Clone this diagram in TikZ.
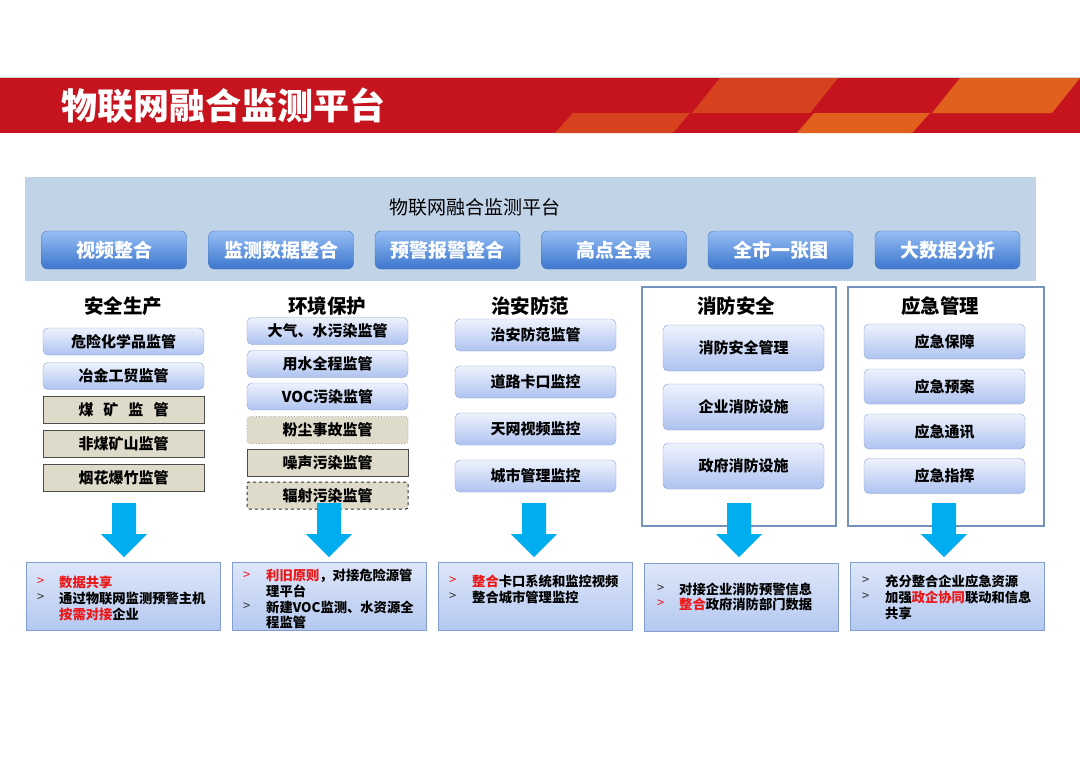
\documentclass[tikz,border=0pt]{standalone}
\usepackage{fontspec}
\setmainfont{Noto Sans CJK SC}

\definecolor{bannerred}{RGB}{198,20,30}
\definecolor{orangeA}{RGB}{214,66,30}
\definecolor{orangeB}{RGB}{226,96,30}
\definecolor{panelblue}{RGB}{193,211,231}
\definecolor{btntop}{RGB}{150,190,245}
\definecolor{btnbot}{RGB}{60,118,204}
\definecolor{btnline}{RGB}{78,118,182}
\definecolor{itemtop}{RGB}{238,242,253}
\definecolor{itembot}{RGB}{174,195,240}
\definecolor{itemline}{RGB}{140,164,210}
\definecolor{khaki}{RGB}{222,219,202}
\definecolor{frameline}{RGB}{118,146,188}
\definecolor{arrowblue}{RGB}{0,174,239}
\definecolor{notetop}{RGB}{222,231,249}
\definecolor{notebot}{RGB}{180,200,240}
\definecolor{noteline}{RGB}{130,158,205}
\definecolor{hired}{RGB}{235,22,22}

\begin{document}
\begin{tikzpicture}[
    x=1pt,y=-1pt,
    every node/.style={inner sep=0pt},
    button/.style={draw=btnline, rounded corners=6pt, top color=btntop, bottom color=btnbot, text=white, font=\bfseries\fontsize{19}{19}\selectfont, minimum width=145, minimum height=38},
    colhead/.style={font=\bfseries\fontsize{19.5}{20}\selectfont},
    item/.style={draw=itemline, rounded corners=5pt, top color=itemtop, bottom color=itembot, font=\bfseries\fontsize{15}{15}\selectfont, minimum width=161},
    grayitem/.style={draw=black!70, line width=0.9pt, fill=khaki, font=\bfseries\fontsize{15}{15}\selectfont, minimum width=161, minimum height=27},
    panelframe/.style={draw=frameline, line width=1.8pt},
    notebox/.style={draw=noteline, top color=notetop, bottom color=notebot, minimum width=194, minimum height=68},
    txt/.style={anchor=west, font=\bfseries\fontsize{13.3}{13.3}\selectfont},
    bul/.style={anchor=west, font=\fontsize{13}{13}\selectfont, text=black!80},
    hotbul/.style={bul, text=hired}
]
    \useasboundingbox (0,0) rectangle (1080,764);
    \fill[white] (0,0) rectangle (1080,764);

    % banner
    \draw[black!18, line width=1pt] (0,77) -- (1080,77);
    \fill[bannerred] (0,78) rectangle (1080,133);
    \fill[orangeA] (692,113) -- (810,113) -- (838,78) -- (720,78) -- cycle;
    \fill[orangeB] (932,113) -- (1052,113) -- (1080,78) -- (960,78) -- cycle;
    \fill[orangeA] (555,133) -- (673,133) -- (690,113) -- (573,113) -- cycle;
    \fill[orangeB] (797,133) -- (912,133) -- (930,113) -- (814,113) -- cycle;
    \node[anchor=west, text=white, font=\bfseries\fontsize{36}{36}\selectfont] (title) at (61,106) {物联网融合监测平台};

    % platform
    \fill[panelblue] (25,177) rectangle (1036,281);
    \node[font=\fontsize{19}{19}\selectfont] (plat) at (475,207) {物联网融合监测平台};
    \foreach \x/\lab [count=\i] in {114/视频整合,281/监测数据整合,447.5/预警报警整合,614/高点全景,780.5/全市一张图,947.5/大数据分析}
        \node[button] (btn\i) at (\x,250) {\lab};

    % frames
    \draw[panelframe] (642,287) rectangle (836,526);
    \draw[panelframe] (848,287) rectangle (1044,526);

    \foreach \x/\lab [count=\i] in {123/安全生产,327/环境保护,530/治安防范,736/消防安全,940/应急管理}
        \node[colhead] (hd\i) at (\x,306) {\lab};

    % safety
    \node[item, minimum height=27] (s1) at (123.5,341.5) {危险化学品监管};
    \node[item, minimum height=27] (s2) at (123.5,376) {冶金工贸监管};
    \node[grayitem] (s3) at (123.5,409.5) {煤\hspace{10pt}矿\hspace{10pt}监\hspace{10pt}管};
    \node[grayitem] (s4) at (123.5,443.5) {非煤矿山监管};
    \node[grayitem] (s5) at (123.5,478) {烟花爆竹监管};

    % environment
    \foreach \y/\lab [count=\i] in {331/大气、水污染监管,364/用水全程监管,396.5/VOC污染监管}
        \node[item, minimum height=27] (e\i) at (327.5,\y) {\lab};
    \node[grayitem, draw=black!35, dotted, rounded corners=3pt] (e4) at (327.5,430) {粉尘事故监管};
    \node[grayitem] (e5) at (327.5,462.5) {噪声污染监管};
    \node[grayitem, draw=black!80, dashed, line width=1pt, rounded corners=2pt] (e6) at (327.5,495.5) {辐射污染监管};

    % public security
    \foreach \y/\lab [count=\i] in {335/治安防范监管,382/道路卡口监控,429/天网视频监控,476/城市管理监控}
        \node[item, minimum height=32] (p\i) at (535.5,\y) {\lab};

    % fire
    \foreach \y/\lab [count=\i] in {348/消防安全管理,407/企业消防设施,466/政府消防设施}
        \node[item, minimum height=46] (f\i) at (743.5,\y) {\lab};

    % emergency
    \foreach \y/\lab [count=\i] in {341.5/应急保障,386.5/应急预案,431.5/应急通讯,476/应急指挥}
        \node[item, minimum height=35] (m\i) at (944.5,\y) {\lab};

    % big arrows
    \foreach \x in {124,329,534,739,944}
        \fill[arrowblue] (\x-12,503) -- (\x+12,503) -- (\x+12,534) -- (\x+23,534)
            -- (\x,557) -- (\x-23,534) -- (\x-12,534) -- cycle;

    % notes
    \node[notebox] (n1) at (123.5,596) {};
    \node[notebox] (n2) at (329.5,596) {};
    \node[notebox] (n3) at (535,596) {};
    \node[notebox] (n4) at (741,597.5) {};
    \node[notebox] (n5) at (947,596) {};

    \node[hotbul] (n1b1) at (37,582) {>};
    \node[txt] (n1t1) at (59,582) {\color{hired}数据共享};
    \node[bul] (n1b2) at (37,598) {>};
    \node[txt] (n1t2) at (59,598) {通过物联网监测预警主机};
    \node[txt] (n1t3) at (59,614) {{\color{hired}按需对接}企业};

    \node[hotbul] (n2b1) at (243,576) {>};
    \node[txt] (n2t1) at (266,576) {{\color{hired}利旧原则}，对接危险源管};
    \node[txt] (n2t2) at (266,591) {理平台};
    \node[bul] (n2b2) at (243,607) {>};
    \node[txt] (n2t3) at (266,607) {新建VOC监测、水资源全};
    \node[txt] (n2t4) at (266,622) {程监管};

    \node[hotbul] (n3b1) at (449,581) {>};
    \node[txt] (n3t1) at (472,581) {{\color{hired}整合}卡口系统和监控视频};
    \node[bul] (n3b2) at (449,597) {>};
    \node[txt] (n3t2) at (472,597) {整合城市管理监控};

    \node[bul] (n4b1) at (657,589) {>};
    \node[txt] (n4t1) at (679,589) {对接企业消防预警信息};
    \node[hotbul] (n4b2) at (657,604) {>};
    \node[txt] (n4t2) at (679,604) {{\color{hired}整合}政府消防部门数据};

    \node[bul] (n5b1) at (862,581) {>};
    \node[txt] (n5t1) at (885,581) {充分整合企业应急资源};
    \node[bul] (n5b2) at (862,597) {>};
    \node[txt] (n5t2) at (885,597) {加强{\color{hired}政企协同}联动和信息};
    \node[txt] (n5t3) at (885,613) {共享};
\end{tikzpicture}
\end{document}
